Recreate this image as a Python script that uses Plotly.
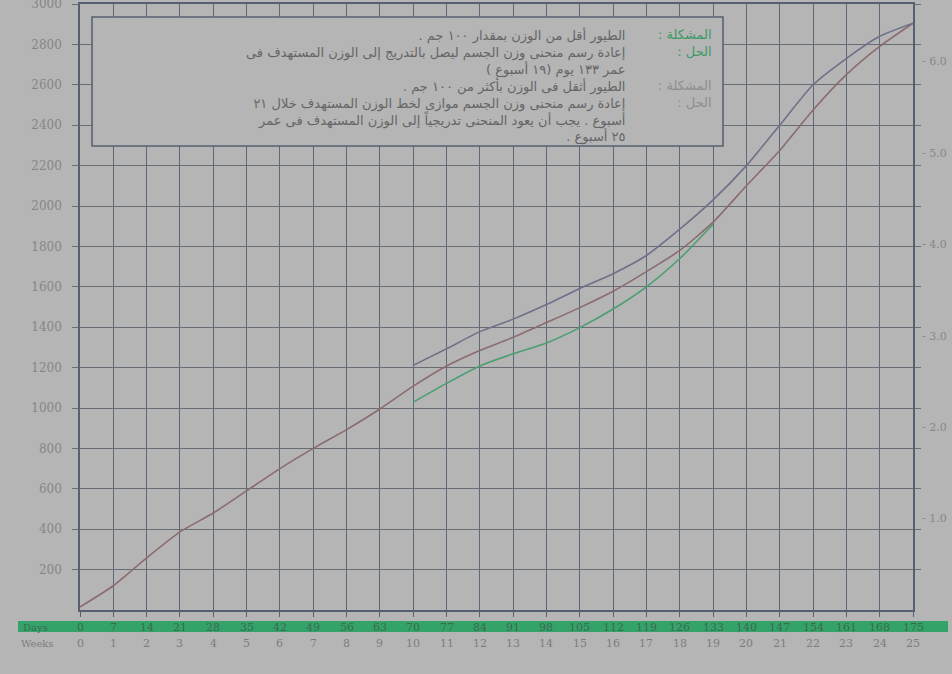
import plotly.graph_objects as go

# ---- data -------------------------------------------------------------
weeks = list(range(0, 26))
days_labels = ["0", "7", "14", "21", "28", "35", "42", "49", "56", "63", "70", "77", "84",
               "91", "98", "105", "112", "119", "126", "133", "140", "147", "154", "161",
               "168", "175"]
weeks_labels = [str(w) for w in weeks]

# target body-weight curve (g)
target_weight = [15, 120, 258, 387, 480, 590, 700, 800, 893, 995, 1108, 1208, 1285,
                 1350, 1423, 1497, 1578, 1675, 1780, 1920, 2100, 2275, 2475, 2650,
                 2790, 2905]

# heavy flock: redrawn curve parallel to the target, rejoining at week 25
heavy_weeks = list(range(10, 26))
heavy_weight = [1211, 1293, 1378, 1440, 1512, 1592, 1665, 1755, 1885, 2030, 2200,
                2400, 2600, 2730, 2840, 2905]

# light flock: redrawn curve reaching the target at week 19 (133 days)
light_weeks = list(range(10, 20))
light_weight = [1029, 1122, 1208, 1268, 1322, 1398, 1490, 1600, 1740, 1910]

left_ticks = list(range(200, 3001, 200))
right_ticks = [1.0, 2.0, 3.0, 4.0, 5.0, 6.0]
right_labels = ["1.0", "2.0", "3.0", "4.0", "5.0", "6.0"]

# ---- layout geometry (pixels) -----------------------------------------
W, H = 952, 674
L, R, T, B = 80, 39, 4, 64
PW, PH = W - L - R, H - T - B


def px(x):
    return (x - L) / PW


def py(y):
    return (H - B - y) / PH


BG = "#b5b5b5"
GRID = "#5f6877"
FRAME = "#56606e"
TICKFONT = dict(family="DejaVu Serif", size=12, color="#868686")

fig = go.Figure()
fig.add_trace(go.Scatter(x=weeks, y=target_weight, mode="lines",
                         line=dict(color="#8b6b70", width=1.6, shape="spline", smoothing=0.6),
                         hoverinfo="skip", showlegend=False))
fig.add_trace(go.Scatter(x=heavy_weeks, y=heavy_weight, mode="lines",
                         line=dict(color="#6f7089", width=1.6, shape="spline", smoothing=0.6),
                         hoverinfo="skip", showlegend=False))
fig.add_trace(go.Scatter(x=light_weeks, y=light_weight, mode="lines",
                         line=dict(color="#4a9f70", width=1.6, shape="spline", smoothing=0.6),
                         hoverinfo="skip", showlegend=False))
# empty trace so the secondary (right) scale is drawn
fig.add_trace(go.Scatter(x=[], y=[], yaxis="y2", mode="lines",
                         hoverinfo="skip", showlegend=False))

fig.update_layout(
    width=W, height=H, autosize=False,
    margin=dict(l=L, r=R, t=T, b=B, pad=0, autoexpand=False),
    paper_bgcolor=BG, plot_bgcolor=BG,
    xaxis=dict(range=[0, 25], tickvals=weeks, showticklabels=False, automargin=False,
               showgrid=True, gridcolor=GRID, gridwidth=1.3,
               showline=True, linecolor=FRAME, linewidth=1.6, mirror=True,
               ticks="outside", ticklen=5, tickcolor=FRAME, zeroline=False),
    yaxis=dict(range=[0, 3000], tickvals=left_ticks, automargin=False,
               showgrid=True, gridcolor="#686c74", gridwidth=1.3,
               showline=True, linecolor=FRAME, linewidth=1.6, mirror="ticks",
               ticks="outside", ticklen=6, tickcolor="#6a6e76",
               tickfont=TICKFONT, ticklabelstandoff=8, zeroline=False,
               ticklabeloverflow="allow"),
    yaxis2=dict(range=[0, (PH) / 91.4], overlaying="y", side="right", automargin=False,
                tickvals=right_ticks, ticktext=["- " + t for t in right_labels],
                showgrid=False, showline=False, zeroline=False, ticks="",
                tickfont=dict(family="DejaVu Serif", size=11, color="#878787"),
                ticklabelstandoff=8),
)

shapes = []
annotations = []

# green "Days" band under the axis
shapes.append(dict(type="rect", xref="paper", yref="paper",
                   x0=px(18), x1=px(948), y0=py(632), y1=py(621),
                   fillcolor="#34a36a", line=dict(width=0), layer="above"))

annotations.append(dict(text="Days", xref="paper", yref="paper", x=px(21), y=py(627),
                        xanchor="left", yanchor="middle", showarrow=False,
                        font=dict(family="DejaVu Serif", size=10, color="#3a6a50")))
annotations.append(dict(text="Weeks", xref="paper", yref="paper", x=px(19), y=py(644),
                        xanchor="left", yanchor="middle", showarrow=False,
                        font=dict(family="DejaVu Serif", size=10, color="#7d7d7d")))
for w, d, wl in zip(weeks, days_labels, weeks_labels):
    annotations.append(dict(text=d, x=w, xref="x", y=py(627), yref="paper",
                            xanchor="center", yanchor="middle", showarrow=False,
                            font=dict(family="DejaVu Serif", size=11, color="#3a6a50")))
    annotations.append(dict(text=wl, x=w, xref="x", y=py(644), yref="paper",
                            xanchor="center", yanchor="middle", showarrow=False,
                            font=dict(family="DejaVu Serif", size=11, color="#7d7d7d")))

# notes box
shapes.append(dict(type="rect", xref="paper", yref="paper",
                   x0=px(92), x1=px(723), y0=py(146), y1=py(17),
                   fillcolor=BG, line=dict(color="#5a6270", width=1.6), layer="above"))

RLE, PDF = "\u202b", "\u202c"
ARFONT = "DejaVu Sans"
GREEN_LBL, GRAY_LBL = "#3d9a64", "#8e8e8e"
label_lines = [
    ("المشكلة :", GREEN_LBL),
    ("الحل :", GREEN_LBL),
    ("", None),
    ("المشكلة :", GRAY_LBL),
    ("الحل :", GRAY_LBL),
]
body_lines = [
    "الطيور أقل من الوزن بمقدار ١٠٠ جم .",
    "إعادة رسم منحنى وزن الجسم ليصل بالتدريج إلى الوزن المستهدف فى",
    "عمر ١٣٣ يوم (١٩ أسبوع )",
    "الطيور أثقل فى الوزن بأكثر من ١٠٠ جم .",
    "إعادة رسم منحنى وزن الجسم موازى لخط الوزن المستهدف خلال ٢١",
    "أسبوع . يجب أن يعود المنحنى تدريجياً إلى الوزن المستهدف فى عمر",
    "٢٥ أسبوع .",
]

label_text = "<br>".join(
    (f"<span style='color:{c}'>{RLE}{t}{PDF}</span>" if t else " ") for t, c in label_lines)
body_text = "<br>".join(RLE + t + PDF for t in body_lines)

annotations.append(dict(text=label_text, xref="paper", yref="paper",
                        x=px(714), y=py(25), xanchor="right", yanchor="top", align="right",
                        showarrow=False, font=dict(family=ARFONT, size=13, color=GRAY_LBL)))
annotations.append(dict(text=body_text, xref="paper", yref="paper",
                        x=px(627), y=py(25), xanchor="right", yanchor="top", align="right",
                        showarrow=False, font=dict(family=ARFONT, size=13, color="#666666")))

fig.update_layout(shapes=shapes, annotations=annotations)
fig.write_html("out.html")
